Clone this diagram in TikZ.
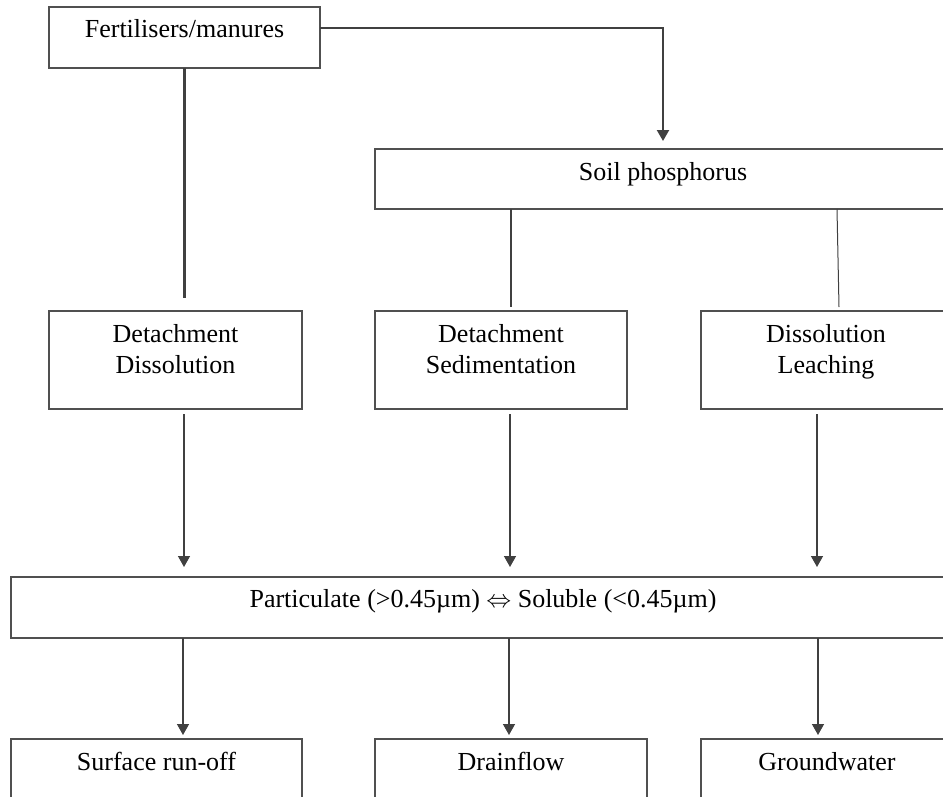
\documentclass[tikz,border=0pt]{standalone}
\usepackage{fontspec}
\setmainfont{Liberation Serif}
\usetikzlibrary{arrows.meta,calc}
\definecolor{boxc}{HTML}{505050}
\definecolor{linec}{HTML}{404040}
\begin{document}
\begin{tikzpicture}[x=1pt,y=-1pt,
  box/.style={draw=boxc, line width=1.3pt, inner sep=0pt, outer sep=0pt},
  lbl/.style={inner sep=0pt, outer sep=0pt, anchor=base, align=center, font=\fontsize{26}{31}\selectfont},
  link/.style={draw=linec, line width=1.4pt},
  thicklink/.style={draw=linec, line width=2.6pt},
  arr/.style={link, -{Triangle[length=11pt,width=12pt]}},
]
\useasboundingbox (0,0) rectangle (943,796);
\clip (0,0) rectangle (943,796);

% boxes
\node[box, minimum width=271pt, minimum height=61pt] (fert) at (184.5,37.5) {};
\node[box, minimum width=576pt, minimum height=60pt] (soil) at (663,179) {};
\node[box, minimum width=253pt, minimum height=98pt] (b1) at (175.5,360) {};
\node[box, minimum width=252pt, minimum height=98pt] (b2) at (501,360) {};
\node[box, minimum width=250pt, minimum height=98pt] (b3) at (826,360) {};
\node[box, minimum width=944pt, minimum height=61pt] (part) at (483,607.5) {};
\node[box, minimum width=291pt, minimum height=101pt] (s1) at (156.5,789.5) {};
\node[box, minimum width=272pt, minimum height=101pt] (s2) at (511,789.5) {};
\node[box, minimum width=252pt, minimum height=101pt] (s3) at (827,789.5) {};

% labels (base = baseline of the last line)
\node[lbl] (fertT) at ($(fert.north)+(0,30)$) {Fertilisers/manures};
\node[lbl] (soilT) at ($(soil.north)+(0,31)$) {Soil phosphorus};
\node[lbl] (b1T) at ($(b1.north)+(0,62)$) {Detachment\\Dissolution};
\node[lbl] (b2T) at ($(b2.north)+(0,62)$) {Detachment\\Sedimentation};
\node[lbl] (b3T) at ($(b3.north)+(0,62)$) {Dissolution\\Leaching};
\node[lbl] (partT) at ($(part.north)+(0,30)$) {Particulate (>0.45µm) $\Leftrightarrow$ Soluble (<0.45µm)};
\node[lbl] (s1T) at ($(s1.north)+(0,31)$) {Surface run-off};
\node[lbl] (s2T) at ($(s2.north)+(0,31)$) {Drainflow};
\node[lbl] (s3T) at ($(s3.north)+(0,31)$) {Groundwater};

% connectors from fertilisers
\draw[thicklink, line width=2.2pt, -{Triangle[length=11pt,width=12pt]}] ($(fert.north east)+(0,21)$) -| ($(soil.north west)+(288,-8)$);
\draw[thicklink] (fert.south) -- ($(fert.south |- b1.north)+(0,-13)$);

% connectors from soil phosphorus
\coordinate (sp2) at ($(soil.south west)+(136,0)$);
\draw[thicklink] (sp2) -- ($(sp2 |- b2.north)+(0,-4)$);
\draw[link, line width=1pt] ($(soil.south west)+(462,0)$) -- ($(b3.north west)+(138,-4)$);

% arrows to particulate
\draw[arr] ($(b1.south)+(8.5,5)$) -- ($(b1.south |- part.north)+(8.5,-10)$);
\draw[arr] ($(b2.south)+(9,5)$) -- ($(b2.south |- part.north)+(9,-10)$);
\draw[arr] ($(b3.south)+(-9,5)$) -- ($(b3.south |- part.north)+(-9,-10)$);

% arrows to pathways
\draw[arr] ($(part.south -| s1.north)+(26.5,0)$) -- ($(s1.north)+(26.5,-4)$);
\draw[arr] ($(part.south -| s2.north)+(-2,0)$) -- ($(s2.north)+(-2,-4)$);
\draw[arr] ($(part.south -| s3.north)+(-9,0)$) -- ($(s3.north)+(-9,-4)$);
\end{tikzpicture}
\end{document}
